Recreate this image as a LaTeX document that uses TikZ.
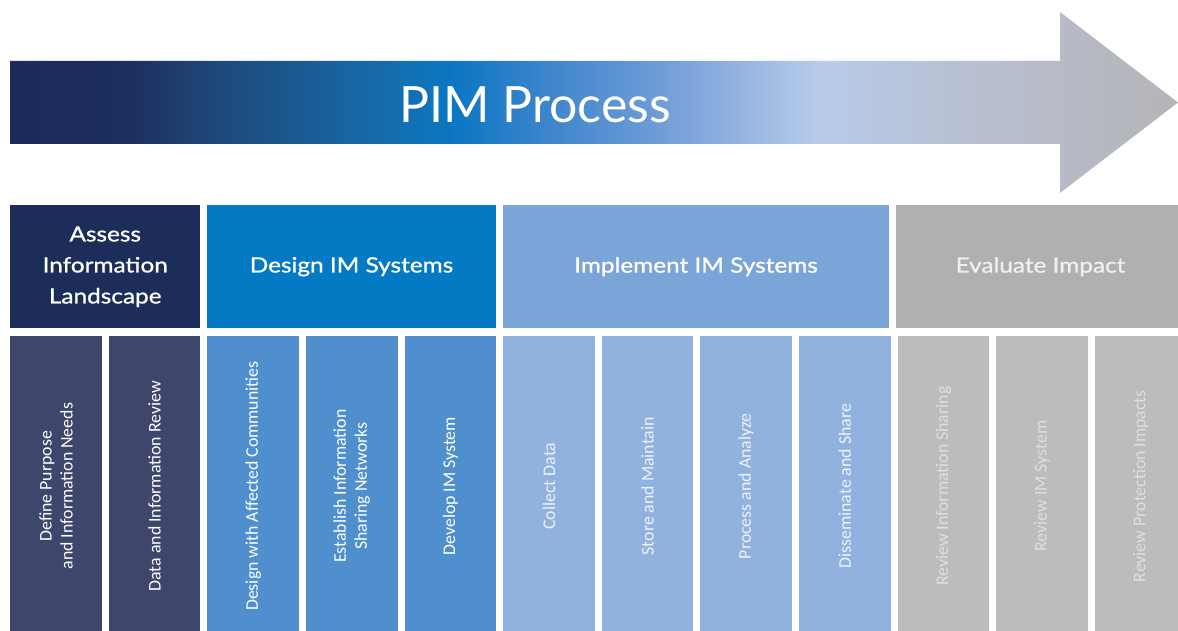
\documentclass[tikz,border=0pt]{standalone}
\usepackage{fontspec}
\setmainfont{Lato}
\newfontfamily\headfont{Lato}[FakeStretch=1.16, FakeBold=0.9]
\newfontfamily\colfont{Carlito}
\usepackage{xcolor}
\usetikzlibrary{positioning}

\definecolor{navy}{HTML}{1C2D5A}
\definecolor{navycol}{HTML}{3F466B}
\definecolor{ocean}{HTML}{0479C4}
\definecolor{oceancol}{HTML}{508FCD}
\definecolor{sky}{HTML}{7BA5D9}
\definecolor{skycol}{HTML}{91B1DF}
\definecolor{stone}{HTML}{B1AFB0}
\definecolor{stonecol}{HTML}{BDBCBB}
\definecolor{stonetext}{HTML}{DFDFDF}
\definecolor{stonehead}{HTML}{F0F0F0}
\definecolor{skytext}{HTML}{EEF3FA}

% colours along the arrow
\definecolor{ar0}{HTML}{1C2A5A}
\definecolor{ar1}{HTML}{1C2F5E}
\definecolor{ar2}{HTML}{1D4475}
\definecolor{ar3}{HTML}{1C5A92}
\definecolor{ar4}{HTML}{1370B0}
\definecolor{ar5}{HTML}{0A76C2}
\definecolor{ar6}{HTML}{3E86CC}
\definecolor{ar7}{HTML}{6C9AD6}
\definecolor{ar8}{HTML}{8CAEDE}
\definecolor{ar9}{HTML}{B8CCEA}
\definecolor{ar10}{HTML}{B8C0D4}
\definecolor{ar11}{HTML}{B5B5B8}
\pgfdeclarehorizontalshading{pimshade}{100bp}{color(0bp)=(ar0); color(25bp)=(ar0);
  color(30.1bp)=(ar1); color(33.1bp)=(ar2); color(37.4bp)=(ar3); color(41.7bp)=(ar4);
  color(43.8bp)=(ar5); color(48.1bp)=(ar6); color(52.4bp)=(ar7); color(55.4bp)=(ar8);
  color(59.7bp)=(ar9); color(65.2bp)=(ar10); color(75bp)=(ar11); color(100bp)=(ar11)}

\begin{document}
\begin{tikzpicture}[x=1pt, y=-1pt,
        phase/.style={rectangle, inner sep=0pt, minimum width=#1, minimum height=123pt,
            text=white, align=center, font={\headfont\fontsize{21}{31}\selectfont}},
        stage/.style={rectangle, inner sep=0pt, minimum width=91.5pt, minimum height=300pt},
        stagetext/.style={rotate=90, align=center, text=white,
            font={\colfont\fontsize{17.8}{21}\selectfont}}
    ]
        \useasboundingbox (0,0) rectangle (1178,631);
        \clip (0,0) rectangle (1178,631);

        % Process arrow
        \shade[shading=pimshade] (10,61) -- (1060,61) -- (1060,12) -- (1178,102.5)
            -- (1060,193) -- (1060,144) -- (10,144) -- cycle;
        \node (title) [anchor=base, text=white, font=\fontsize{50}{60}\selectfont] at (535,123) {PIM Process};

        % Phases
        \node (assess) [phase=190.1pt, fill=navy, anchor=north west] at (10,205) {Assess\\Information\\Landscape};
        \node (design) [phase=288.2pt, fill=ocean, right=6.7pt of assess] {Design IM Systems};
        \node (implement) [phase=386.6pt, fill=sky, right=6.7pt of design] {Implement IM Systems};
        \node (evaluate) [phase=288.2pt, fill=stone, right=6.7pt of implement, text=stonehead] {Evaluate Impact};

        % Steps of Assess
        \node (define) [stage, fill=navycol, anchor=north west] at (10,336) {};
        \node (review) [stage, fill=navycol, right=6.7pt of define] {};
        \node [stagetext] at (define) {Define Purpose\\and Information Needs};
        \node [stagetext] at (review) {Data and Information Review};

        % Steps of Design
        \node (community) [stage, fill=oceancol, right=6.7pt of review] {};
        \node (network) [stage, fill=oceancol, right=6.7pt of community] {};
        \node (develop) [stage, fill=oceancol, right=6.7pt of network] {};
        \node [stagetext] at (community) {Design with Affected Communities};
        \node [stagetext] at (network) {Establish Information\\Sharing Networks};
        \node [stagetext] at (develop) {Develop IM System};

        % Steps of Implement
        \node (collect) [stage, fill=skycol, right=6.7pt of develop] {};
        \node (store) [stage, fill=skycol, right=6.7pt of collect] {};
        \node (analyze) [stage, fill=skycol, right=6.7pt of store] {};
        \node (share) [stage, fill=skycol, right=6.7pt of analyze] {};
        \node [stagetext, text=skytext] at (collect) {Collect Data};
        \node [stagetext, text=skytext] at (store) {Store and Maintain};
        \node [stagetext, text=skytext] at (analyze) {Process and Analyze};
        \node [stagetext, text=skytext] at (share) {Disseminate and Share};

        % Steps of Evaluate
        \node (sharing) [stage, fill=stonecol, right=6.7pt of share] {};
        \node (system) [stage, fill=stonecol, right=6.7pt of sharing] {};
        \node (protection) [stage, fill=stonecol, right=6.7pt of system] {};
        \node [stagetext, text=stonetext] at (sharing) {Review Information Sharing};
        \node [stagetext, text=stonetext] at (system) {Review IM System};
        \node [stagetext, text=stonetext] at (protection) {Review Protection Impacts};
    \end{tikzpicture}
\end{document}
